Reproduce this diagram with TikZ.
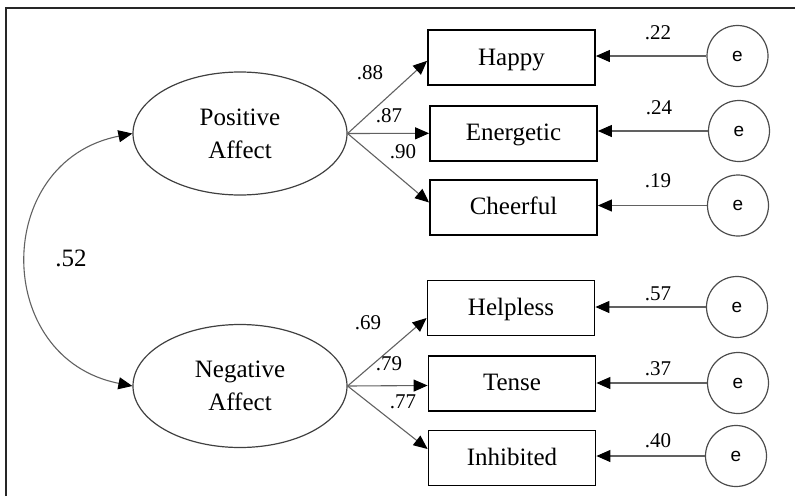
\documentclass[tikz,border=0pt]{standalone}
\usepackage{fontspec}
\setmainfont{Liberation Serif}
\newfontfamily\esans{Liberation Sans}
\usetikzlibrary{shapes.geometric,arrows.meta,calc}
\begin{document}
\begin{tikzpicture}[x=1pt,y=-1pt,
  lat/.style={ellipse,draw=black!75,line width=1.2pt,minimum width=214pt,minimum height=123pt,inner sep=0pt,align=center,font=\fontsize{25}{33}\selectfont},
  obs/.style={rectangle,draw=black,line width=1.8pt,minimum width=167pt,minimum height=55pt,inner sep=0pt,text height=18pt,text depth=3.6pt,font=\fontsize{25}{30}\selectfont},
  err/.style={circle,draw=black!70,line width=1.2pt,minimum size=61pt,inner sep=0pt,font=\esans\fontsize{19}{22}\selectfont},
  tipA/.tip={Triangle[length=14pt,width=12pt,color=black]},
  arr/.style={draw=black!62,line width=1.1pt,-tipA},
  cov/.style={draw=black!62,line width=1.1pt,tipA-tipA},
  coef/.style={inner sep=0pt,font=\fontsize{21}{25}\selectfont},
  frame/.style={draw=black!85,line width=2pt}
]
\useasboundingbox (0,0) rectangle (795,496);
\draw[frame] (6,496) -- (6,8) -- (795,8);

% latent variables
\node[lat] (PA) at (240,133.5) {Positive\\Affect};
\node[lat] (NA) at (240,386) {Negative\\Affect};

% indicators
\node[obs] (H)  at (511.5,57.8)  {Happy};
\node[obs] (En) at (513.5,133.3) {Energetic};
\node[obs] (C)  at (513.5,207.5) {Cheerful};
\node[obs] (He) at (511,308)     {Helpless};
\node[obs] (T)  at (512,383.5)   {Tense};
\node[obs] (I)  at (512,458)     {Inhibited};

% error terms
\node[err] (e1) at (737.5,56) {e};
\node[err] (e2) at (739,131)  {e};
\node[err] (e3) at (738,205.5){e};
\node[err] (e4) at (737,307)  {e};
\node[err] (e5) at (738,383)  {e};
\node[err] (e6) at (736,456)  {e};

% loadings
\draw[arr] (PA.east) -- ($(H.west)+(0,3)$);
\draw[arr] (PA.east) -- (En.west);
\draw[arr] (PA.east) -- ($(C.west)+(0,-5)$);
\draw[arr] (NA.east) -- ($(He.west)+(0,10)$);
\draw[arr] (NA.east) -- ($(T.west)+(0,2)$);
\draw[arr] (NA.east) -- ($(I.west)+(0,-9)$);

% error arrows
\draw[arr] (e1.west) -- (e1.west -| H.east);
\draw[arr] (e2.west) -- (e2.west -| En.east);
\draw[arr] (e3.west) -- (e3.west -| C.east);
\draw[arr] (e4.west) -- (e4.west -| He.east);
\draw[arr] (e5.west) -- (e5.west -| T.east);
\draw[arr] (e6.west) -- (e6.west -| I.east);

% covariance
\draw[cov] (PA.west) .. controls (-8,161) and (-8,358.5) .. (NA.west);

% coefficients
\node[inner sep=0pt,font=\fontsize{25}{30}\selectfont] (c0) at (71,258) {.52};
\node[coef] (c1) at (370,73)  {.88};
\node[coef] (c2) at (389,116) {.87};
\node[coef] (c3) at (403,152) {.90};
\node[coef] (c4) at (368,323) {.69};
\node[coef] (c5) at (389,364) {.79};
\node[coef] (c6) at (403,402) {.77};
\node[coef] (r1) at (658,33)  {.22};
\node[coef] (r2) at (659,108) {.24};
\node[coef] (r3) at (658,181) {.19};
\node[coef] (r4) at (658,294) {.57};
\node[coef] (r5) at (658,369) {.37};
\node[coef] (r6) at (658,441) {.40};
\end{tikzpicture}
\end{document}
